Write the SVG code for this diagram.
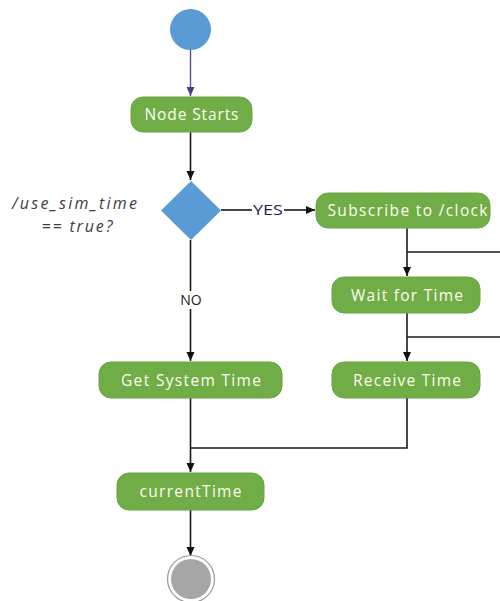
<svg xmlns="http://www.w3.org/2000/svg" width="500" height="601" viewBox="0 0 500 601">
<style>
.act{fill:#70ad47;stroke:#6aa640;stroke-width:1}
.lbl{font-family:"Open Sans","Liberation Sans",sans-serif;font-size:15.5px;fill:#fffdf0;text-anchor:middle}
.ln{fill:none;stroke:#1a1a1a;stroke-width:1.6}
.cond{font-family:"Open Sans","Liberation Sans",sans-serif;font-size:16px;font-style:italic;fill:#404040;text-anchor:middle}
.gl{font-family:"Open Sans","Liberation Sans",sans-serif;font-size:14px;fill:#1f1f4f;text-anchor:middle}
</style>
<defs>
<marker id="ah" markerWidth="10" markerHeight="10" refX="9" refY="5" orient="auto" markerUnits="userSpaceOnUse">
<path d="M0,1 L9,5 L0,9 Z" fill="#111"/>
</marker>
<marker id="ahp" markerWidth="10" markerHeight="10" refX="9" refY="5" orient="auto" markerUnits="userSpaceOnUse">
<path d="M0,1 L9,5 L0,9 Z" fill="#4a3f80"/>
</marker>
</defs>
<rect width="500" height="601" fill="#ffffff"/>
<g id="connectors">
<line x1="190.5" y1="50" x2="190.5" y2="96" stroke="#5b4f90" stroke-width="1.4" marker-end="url(#ahp)"/>
<line class="ln" x1="190.5" y1="132" x2="190.5" y2="180" marker-end="url(#ah)"/>
<line class="ln" x1="221" y1="210" x2="252" y2="210"/>
<line class="ln" x1="284" y1="210" x2="315" y2="210" marker-end="url(#ah)"/>
<line class="ln" x1="190.5" y1="240" x2="190.5" y2="361" marker-end="url(#ah)"/>
<line class="ln" x1="407" y1="228" x2="407" y2="276" marker-end="url(#ah)"/>
<line class="ln" x1="407" y1="252" x2="500" y2="252"/>
<line class="ln" x1="407" y1="313" x2="407" y2="361" marker-end="url(#ah)"/>
<line class="ln" x1="407" y1="337" x2="500" y2="337"/>
<polyline class="ln" points="407,398 407,448 190.5,448"/>
<line class="ln" x1="190.5" y1="398" x2="190.5" y2="472" marker-end="url(#ah)"/>
<line class="ln" x1="190.5" y1="510" x2="190.5" y2="556" marker-end="url(#ah)"/>
<rect x="177" y="291" width="28" height="18" fill="#ffffff"/>
<text class="gl" x="268" y="215" textLength="30" lengthAdjust="spacingAndGlyphs">YES</text>
<text class="gl" x="191" y="305" style="fill:#222">NO</text>
</g>
<g id="start">
<circle cx="190.5" cy="29.5" r="20.5" fill="#5b9bd5"/>
</g>
<g id="node-starts">
<rect class="act" x="131" y="97" width="121" height="35" rx="12"/>
<text class="lbl" x="191.5" y="120" textLength="94" lengthAdjust="spacing">Node Starts</text>
</g>
<g id="decision">
<polygon points="191,181 221,210.5 191,240 161,210.5" fill="#5b9bd5"/>
<text class="cond" x="74.5" y="208.5" textLength="125" lengthAdjust="spacing">/use_sim_time</text>
<text class="cond" x="77" y="231.5" textLength="71" lengthAdjust="spacing">== true?</text>
</g>
<g id="subscribe">
<rect class="act" x="316" y="193" width="174" height="35" rx="12"/>
<text class="lbl" x="407.5" y="216" textLength="160" lengthAdjust="spacing">Subscribe to /clock</text>
</g>
<g id="wait">
<rect class="act" x="332" y="277" width="148" height="36" rx="12"/>
<text class="lbl" x="407" y="300.5" textLength="112" lengthAdjust="spacing">Wait for Time</text>
</g>
<g id="receive">
<rect class="act" x="332" y="362" width="148" height="36" rx="12"/>
<text class="lbl" x="407" y="385.5" textLength="108" lengthAdjust="spacing">Receive Time</text>
</g>
<g id="get-system">
<rect class="act" x="99" y="362" width="183" height="36" rx="12"/>
<text class="lbl" x="191" y="385.5" textLength="140" lengthAdjust="spacing">Get System Time</text>
</g>
<g id="current">
<rect class="act" x="117" y="473" width="147" height="37" rx="12"/>
<text class="lbl" x="190.5" y="497" textLength="102" lengthAdjust="spacing">currentTime</text>
</g>
<g id="end">
<circle cx="191" cy="579" r="23.5" fill="#ffffff" stroke="#9a9a9a" stroke-width="1.2"/>
<circle cx="191" cy="579" r="20" fill="#a6a6a6"/>
</g>
</svg>
